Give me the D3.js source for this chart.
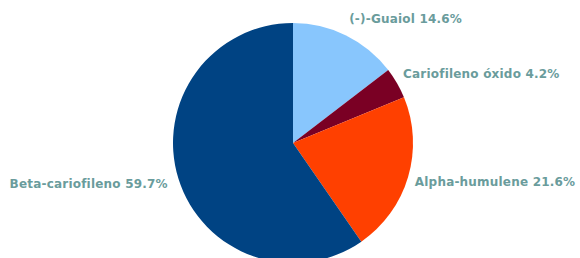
<!DOCTYPE html>
<html>
<head>
<meta charset="utf-8">
<script src="https://cdn.jsdelivr.net/npm/d3@7"></script>
<style>
  html, body { margin: 0; padding: 0; background: #fff; overflow: hidden; }
  svg { display: block; }
</style>
</head>
<body>
<div id="chart"></div>
<script>
const categories = ["(-)-Guaiol", "Cariofileno óxido", "Alpha-humulene", "Beta-cariofileno"];
const values = [14.6, 4.2, 21.6, 59.7];
const colors = ["#88c6fd", "#7a0024", "#ff4000", "#004383"];

const width = 580, height = 258;
const cx = 293, cy = 143, radius = 120;
const labelRy = 138, labelRx = 127;

const svg = d3.select("#chart").append("svg")
  .attr("width", width).attr("height", height);

const data = categories.map((c, i) => ({ name: c, value: values[i], color: colors[i] }));

const pie = d3.pie().value(d => d.value).sort(null);
const arcs = pie(data);
const arc = d3.arc().innerRadius(0).outerRadius(radius);
const labelArc = d3.arc().innerRadius(labelRy).outerRadius(labelRy);

const g = svg.append("g").attr("transform", `translate(${cx},${cy})`);

g.selectAll("path.slice").data(arcs).enter().append("path")
  .attr("class", "slice")
  .attr("d", arc)
  .attr("fill", d => d.data.color);

g.selectAll("text.lbl").data(arcs).enter().append("text")
  .attr("class", "lbl")
  .attr("x", d => {
    const x = labelArc.centroid(d)[0] * labelRx / labelRy;
    return x < 0 ? x - 4 : x;
  })
  .attr("y", d => labelArc.centroid(d)[1])
  .attr("dy", "0.33em")
  .attr("text-anchor", d => ((d.startAngle + d.endAngle) / 2 < Math.PI ? "start" : "end"))
  .attr("font-family", "DejaVu Sans, Verdana, sans-serif")
  .attr("font-size", "12px")
  .attr("font-weight", "bold")
  .attr("letter-spacing", "0.2px")
  .attr("fill", "#6a9c9c")
  .text(d => `${d.data.name} ${d.data.value.toFixed(1)}%`);
</script>
</body>
</html>
